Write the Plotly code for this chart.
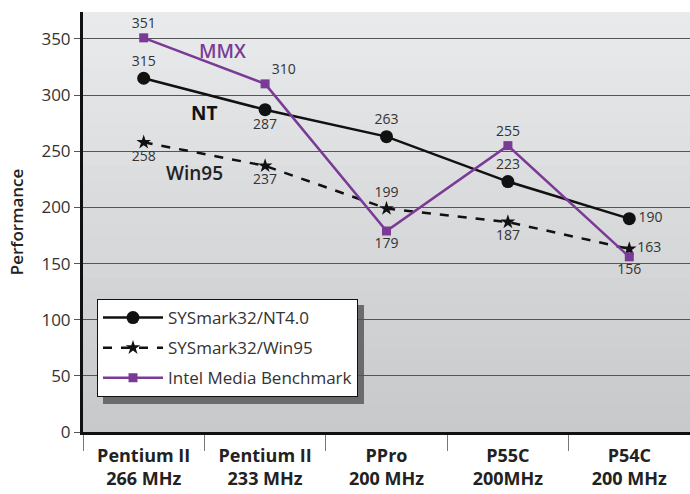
import plotly.graph_objects as go

categories = ["Pentium II<br>266 MHz", "Pentium II<br>233 MHz", "PPro<br>200 MHz", "P55C<br>200MHz", "P54C<br>200 MHz"]
nt_values = [315, 287, 263, 223, 190]
win95_values = [258, 237, 199, 187, 163]
mmx_values = [351, 310, 179, 255, 156]
y_ticks = [0, 50, 100, 150, 200, 250, 300, 350]

nt_pos = ["top center", "bottom center", "top center", "top center", "middle right"]
win_pos = ["bottom center", "bottom center", "top center", "bottom center", "middle right"]
mmx_pos = ["top center", "top right", "bottom center", "top center", "bottom center"]

PURPLE = "#7a3a96"
LABEL = "#333333"
FONT = "Open Sans, Noto Sans, sans-serif"

fig = go.Figure()
fig.add_trace(go.Scatter(
    x=categories, y=nt_values, name="SYSmark32/NT4.0", legendgroup="a",
    mode="lines+markers+text", text=[str(v) for v in nt_values], textposition=nt_pos,
    line=dict(color="#111111", width=2.5), marker=dict(symbol="circle", size=13, color="#111111"),
    textfont=dict(size=14, color=LABEL, family=FONT), cliponaxis=False))
fig.add_trace(go.Scatter(
    x=categories, y=win95_values, name="SYSmark32/Win95", legendgroup="b",
    mode="lines+markers+text", text=[str(v) for v in win95_values], textposition=win_pos,
    line=dict(color="#111111", width=2.5, dash="dash"), marker=dict(symbol="star", size=11, color="#111111"),
    textfont=dict(size=14, color=LABEL, family=FONT), cliponaxis=False))
fig.add_trace(go.Scatter(
    x=categories, y=mmx_values, name="Intel Media Benchmark", legendgroup="c",
    mode="lines+markers+text", text=[str(v) for v in mmx_values], textposition=mmx_pos,
    line=dict(color=PURPLE, width=2.5), marker=dict(symbol="square", size=9, color=PURPLE),
    textfont=dict(size=14, color=LABEL, family=FONT), cliponaxis=False))

# gradient background bands
shapes = []
n = 30
top = (0xe9, 0xea, 0xec)
bot = (0xc8, 0xc9, 0xcb)
for i in range(n):
    t = i / (n - 1)
    c = tuple(round(top[k] + (bot[k] - top[k]) * t) for k in range(3))
    shapes.append(dict(type="rect", xref="x domain", yref="y domain",
                       x0=0, x1=1, y0=1 - (i + 1) / n, y1=1 - i / n,
                       fillcolor="rgb(%d,%d,%d)" % c, line=dict(width=0), layer="below"))
# legend shadow
shapes.append(dict(type="rect", xref="paper", yref="paper",
                   x0=(103 - 83) / 607, x1=(364 - 83) / 607,
                   y0=(432 - 404) / 420, y1=(432 - 305) / 420,
                   fillcolor="#6b6b6d", line=dict(width=0), layer="below"))

fig.update_layout(
    width=690, height=494,
    margin=dict(l=83, r=0, t=12, b=62),
    paper_bgcolor="white", plot_bgcolor="rgba(0,0,0,0)",
    font=dict(family=FONT, color="#222222"),
    shapes=shapes,
    showlegend=True,
    legend=dict(x=(97 - 83) / 607, y=(432 - 299) / 420, xanchor="left", yanchor="top",
                bgcolor="white", bordercolor="#111111", borderwidth=1,
                font=dict(size=17, color="#333333", family=FONT),
                traceorder="grouped", tracegroupgap=5, itemwidth=60),
    xaxis=dict(type="category", range=[-0.5, 4.5], showgrid=False, automargin=False,
               showline=True, linecolor="#111111", linewidth=3,
               ticks="outside", tickson="boundaries", ticklen=16, tickcolor="#777777", tickwidth=1,
               ticklabelstandoff=5,
               tickfont=dict(size=18, color="#222222", family=FONT, weight="bold"), fixedrange=True),
    yaxis=dict(range=[0, 374], tickvals=y_ticks, showgrid=True, gridcolor="#555555", gridwidth=1,
               showline=True, linecolor="#111111", linewidth=3, zeroline=False, automargin=False,
               ticks="outside", ticklen=6, tickcolor="#555555",
               tickfont=dict(size=17, color="#333333", family=FONT),
               title=dict(text="Performance", font=dict(size=17, color="#222222", family=FONT, weight=600), standoff=14)),
    annotations=[
        dict(x=0.653, y=339, xref="x", yref="y", text="MMX", showarrow=False,
             font=dict(size=19, color=PURPLE, family=FONT, weight=600)),
        dict(x=0.497, y=284, xref="x", yref="y", text="NT", showarrow=False,
             font=dict(size=19, color="#111111", family=FONT, weight="bold")),
        dict(x=0.42, y=231, xref="x", yref="y", text="Win95", showarrow=False,
             font=dict(size=19, color="#222222", family=FONT, weight=600)),
    ],
)

fig.write_html("out.html", config={"displayModeBar": False},
               post_script="document.body.style.margin='0';document.body.style.overflow='hidden';")
